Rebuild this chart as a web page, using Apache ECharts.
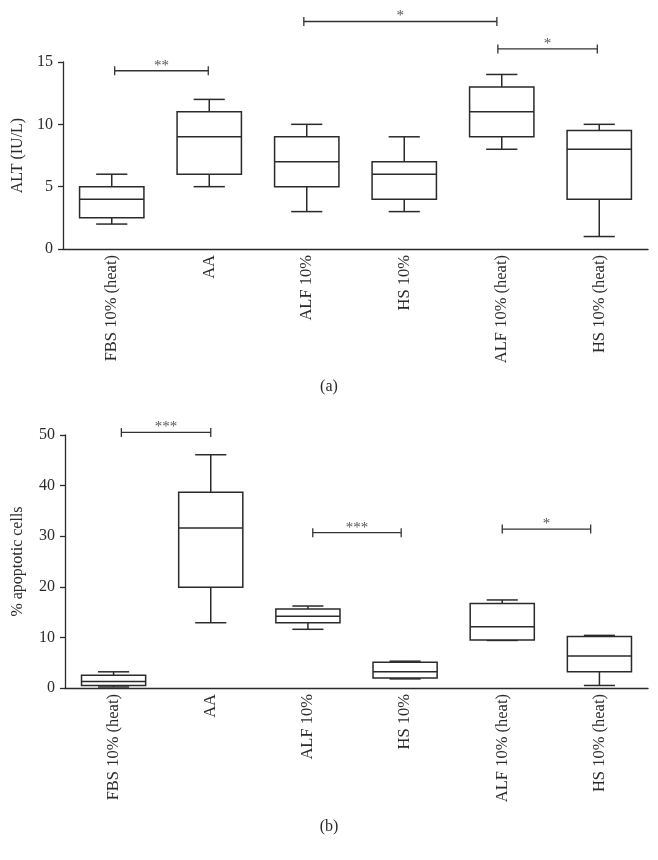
<!DOCTYPE html>
<html>
<head>
<meta charset="utf-8">
<script src="https://cdn.jsdelivr.net/npm/echarts@6/dist/echarts.min.js"></script>
<style>
html,body{margin:0;padding:0;background:#fff;}
#chart{width:658px;height:860px;}
</style>
</head>
<body>
<div id="chart"></div>
<script>
// ---- data ----
const categories = ['FBS 10% (heat)', 'AA', 'ALF 10%', 'HS 10%', 'ALF 10% (heat)', 'HS 10% (heat)'];
// [min, Q1, median, Q3, max]
const altStats = [
  [2, 2.5, 4, 5, 6],
  [5, 6, 9, 11, 12],
  [3, 5, 7, 9, 10],
  [3, 4, 6, 7, 9],
  [8, 9, 11, 13, 14],
  [1, 4, 8, 9.5, 10]
];
const apoStats = [
  [0.2, 0.5, 1.3, 2.5, 3.2],
  [12.9, 19.9, 31.6, 38.7, 46.1],
  [11.6, 12.9, 14.2, 15.6, 16.2],
  [1.8, 2.0, 3.2, 5.1, 5.3],
  [9.4, 9.5, 12.1, 16.7, 17.4],
  [0.5, 3.2, 6.3, 10.2, 10.4]
];
// significance brackets: [startPos, endPos, level]
const altBrackets = [[0.03, 0.99, 14.3], [1.97, 3.95, 18.25], [3.96, 4.98, 16.05]];
const altBracketLabels = ['**', '*', '*'];
const apoBrackets = [[0.08, 1.0, 50.5], [2.05, 2.96, 30.7], [4.0, 4.91, 31.4]];
const apoBracketLabels = ['***', '***', '*'];
const altTicks = {min: 0, max: 15, interval: 5};
const apoTicks = {min: 0, max: 50, interval: 10};
const panelLabels = ['(a)', '(b)'];

// ---- drawing ----
const FONT = '"Liberation Serif", "DejaVu Serif", serif';
const INK = '#2a2a2a';

function boxItem(params, api) {
  const i = api.value(0);
  const bw = api.size([1, 0])[0];
  const half = bw * 0.33, cap = bw * 0.16;
  const x = api.coord([i, 0])[0];
  const yMin = api.coord([i, api.value(1)])[1];
  const yQ1 = api.coord([i, api.value(2)])[1];
  const yMed = api.coord([i, api.value(3)])[1];
  const yQ3 = api.coord([i, api.value(4)])[1];
  const yMax = api.coord([i, api.value(5)])[1];
  const st = {stroke: INK, lineWidth: 1.5, fill: null};
  return {
    type: 'group',
    children: [
      {type: 'line', shape: {x1: x, y1: yMax, x2: x, y2: yQ3}, style: st},
      {type: 'line', shape: {x1: x, y1: yQ1, x2: x, y2: yMin}, style: st},
      {type: 'line', shape: {x1: x - cap, y1: yMax, x2: x + cap, y2: yMax}, style: st},
      {type: 'line', shape: {x1: x - cap, y1: yMin, x2: x + cap, y2: yMin}, style: st},
      {type: 'rect', shape: {x: x - half, y: yQ3, width: 2 * half, height: yQ1 - yQ3}, style: {stroke: INK, lineWidth: 1.5, fill: '#fff'}},
      {type: 'line', shape: {x1: x - half, y1: yMed, x2: x + half, y2: yMed}, style: st}
    ]
  };
}

function bracketRenderer(labels) {
  return function (params, api) {
    const p0 = api.coord([api.value(0), api.value(2)]);
    const p1 = api.coord([api.value(1), api.value(2)]);
    const st = {stroke: '#333', lineWidth: 1.3};
    return {
      type: 'group',
      children: [
        {type: 'line', shape: {x1: p0[0], y1: p0[1], x2: p1[0], y2: p1[1]}, style: st},
        {type: 'line', shape: {x1: p0[0], y1: p0[1] - 4.5, x2: p0[0], y2: p0[1] + 4.5}, style: st},
        {type: 'line', shape: {x1: p1[0], y1: p1[1] - 4.5, x2: p1[0], y2: p1[1] + 4.5}, style: st},
        {type: 'text', style: {text: labels[params.dataIndex], x: (p0[0] + p1[0]) / 2, y: p0[1] - 5,
          align: 'center', verticalAlign: 'middle', fill: '#555', font: '15px ' + FONT}}
      ]
    };
  };
}

function catAxis(gridIndex) {
  return {
    type: 'category', gridIndex, data: categories, boundaryGap: true,
    axisLine: {onZero: false, lineStyle: {color: INK, width: 1.3}},
    axisTick: {alignWithLabel: true, length: 5, lineStyle: {color: INK, width: 1.3}},
    axisLabel: {rotate: 90, margin: 6, color: INK, fontFamily: FONT, fontSize: 16.5},
    splitLine: {show: false}
  };
}
function valAxis(gridIndex, ticks, name, gap) {
  return {
    type: 'value', gridIndex, min: ticks.min, max: ticks.max, interval: ticks.interval,
    name, nameLocation: 'middle', nameGap: gap,
    nameTextStyle: {color: INK, fontFamily: FONT, fontSize: 16},
    axisLine: {show: true, onZero: false, lineStyle: {color: INK, width: 1.3}},
    axisTick: {show: true, length: 5, lineStyle: {color: INK, width: 1.3}},
    axisLabel: {margin: 10, color: INK, fontFamily: FONT, fontSize: 16},
    splitLine: {show: false}
  };
}
function posAxis(gridIndex) {
  return {type: 'value', gridIndex, min: -0.5, max: categories.length - 0.5, show: false,
    axisLine: {onZero: false}};
}

const chart = echarts.init(document.getElementById('chart'), null, {renderer: 'canvas'});
chart.setOption({
  backgroundColor: '#fff',
  animation: false,
  grid: [
    {left: 63, right: 10, top: 62, height: 187},
    {left: 65, right: 10, top: 435, height: 253}
  ],
  xAxis: [catAxis(0), catAxis(1), posAxis(0), posAxis(1)],
  yAxis: [valAxis(0, altTicks, 'ALT (IU/L)', 37), valAxis(1, apoTicks, '% apoptotic cells', 39)],
  graphic: [
    {type: 'text', left: 'center', top: 379, style: {text: panelLabels[0], fill: INK, font: '16px ' + FONT}},
    {type: 'text', left: 'center', top: 819, style: {text: panelLabels[1], fill: INK, font: '16px ' + FONT}}
  ],
  series: [
    {type: 'custom', xAxisIndex: 0, yAxisIndex: 0, clip: false, renderItem: boxItem,
      data: altStats.map((s, i) => [i].concat(s))},
    {type: 'custom', xAxisIndex: 1, yAxisIndex: 1, clip: false, renderItem: boxItem,
      data: apoStats.map((s, i) => [i].concat(s))},
    {type: 'custom', xAxisIndex: 2, yAxisIndex: 0, clip: false, renderItem: bracketRenderer(altBracketLabels),
      encode: {x: [0, 1], y: 2}, data: altBrackets},
    {type: 'custom', xAxisIndex: 3, yAxisIndex: 1, clip: false, renderItem: bracketRenderer(apoBracketLabels),
      encode: {x: [0, 1], y: 2}, data: apoBrackets}
  ]
});
</script>
</body>
</html>
